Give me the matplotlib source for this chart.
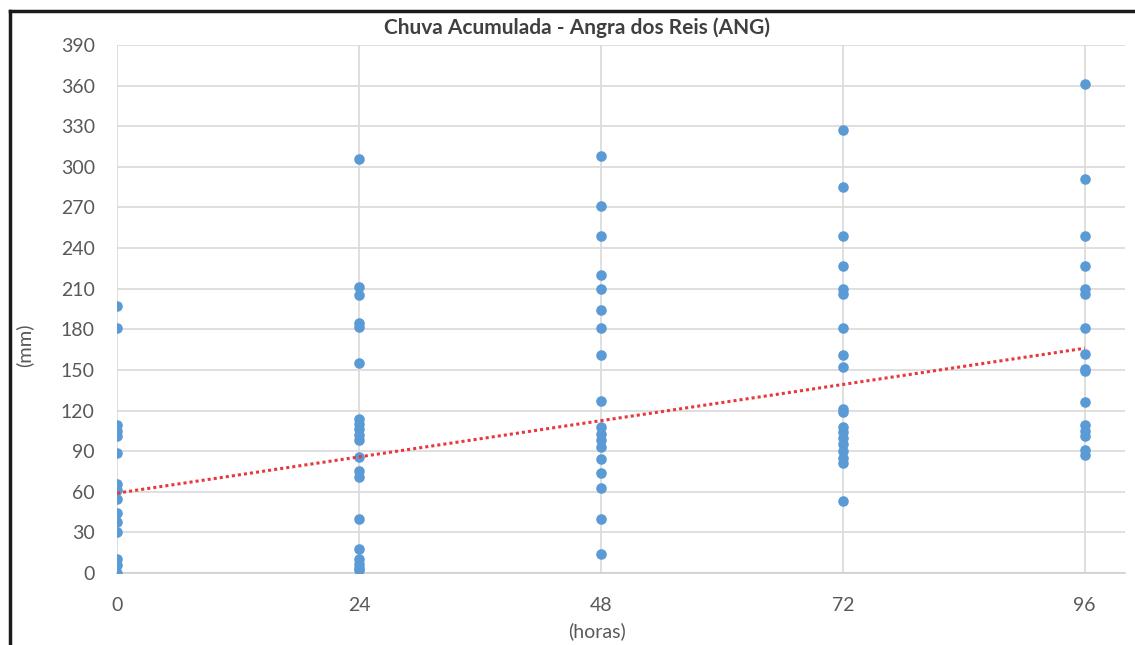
import numpy as np
import matplotlib
matplotlib.use("Agg")
import matplotlib.pyplot as plt
from matplotlib.lines import Line2D

hours = [0, 24, 48, 72, 96]
rain_0 = [197, 181, 109, 105, 101, 89, 66, 61, 55, 44, 38, 30, 10, 6, 0]
rain_24 = [306, 211, 205, 185, 182, 155, 114, 110, 106, 102, 98, 86, 75, 71, 40, 18, 10, 7, 4, 2]
rain_48 = [308, 271, 249, 220, 210, 194, 181, 161, 127, 108, 103, 98, 93, 84, 74, 63, 40, 14]
rain_72 = [327, 285, 249, 227, 210, 206, 181, 161, 152, 121, 119, 108, 104, 100, 95, 90, 85, 81, 53]
rain_96 = [361, 291, 249, 227, 210, 206, 181, 162, 151, 149, 126, 109, 105, 101, 91, 87]
series = [rain_0, rain_24, rain_48, rain_72, rain_96]
trend_hours = [0, 96]
trend_values = [59, 166]
yticks = list(range(0, 391, 30))
title = "Chuva Acumulada - Angra dos Reis (ANG)"
xlabel = "(horas)"
ylabel = "(mm)"

plt.rcParams['font.family'] = ['Lato', 'DejaVu Sans']

W, H = 1135, 645
fig = plt.figure(figsize=(W / 100, H / 100), dpi=100)
ax = fig.add_axes([117 / W, 1 - 573 / H, (1125 - 117) / W, (573 - 45) / H])

for h, vals in zip(hours, series):
    ax.scatter([h] * len(vals), vals, s=58, color="#5B9BD5", zorder=3, linewidths=0)
ax.plot(trend_hours, trend_values, color="#E8383D", linestyle=(0, (1, 1)),
        linewidth=2.2, zorder=4)

ax.set_xlim(0, 100)
ax.set_ylim(0, 390)
ax.set_xticks(hours)
ax.set_yticks(yticks)
ax.grid(True, color="#D9D9D9", linewidth=1.2)
ax.set_axisbelow(True)
for sp in ["top", "right", "left"]:
    ax.spines[sp].set_visible(False)
ax.spines["bottom"].set_color("#D0D0D0")
ax.spines["bottom"].set_linewidth(1.2)
ax.tick_params(length=0, labelsize=14, colors="#595959")
ax.tick_params(axis="x", pad=17)
ax.tick_params(axis="y", pad=16)

fig.text(577 / W, 1 - 28 / H, title, ha="center", va="center", fontsize=15,
         fontweight="bold", color="#404040")
fig.text(597 / W, 1 - 631 / H, xlabel, ha="center", va="center", fontsize=14, color="#595959")
fig.text(24 / W, 1 - 345 / H, ylabel, ha="center", va="center", fontsize=14.5,
         color="#595959", rotation=90)

# frame lines (left and top)
fig.add_artist(Line2D([10 / W, 10 / W], [0, 1 - 11 / H], color="#1a1a1a", linewidth=2.5,
                      transform=fig.transFigure))
fig.add_artist(Line2D([10 / W, 1], [1 - 11 / H, 1 - 11 / H], color="#1a1a1a", linewidth=2.5,
                      transform=fig.transFigure))

fig.savefig("out.png", dpi=100)
